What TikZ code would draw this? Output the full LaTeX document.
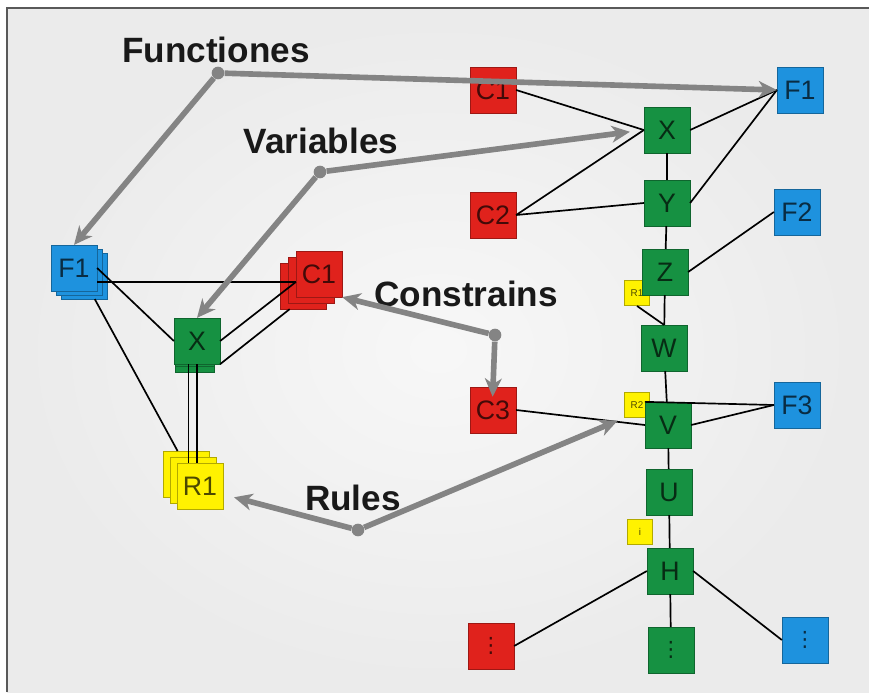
\documentclass[tikz,border=0pt]{standalone}
\usepackage{fontspec}
\setmainfont{Liberation Sans}
\newfontfamily\symfont{DejaVu Sans}
\usetikzlibrary{arrows.meta}

\definecolor{boxred}{RGB}{224,34,28}
\definecolor{boxgreen}{RGB}{22,145,66}
\definecolor{boxblue}{RGB}{30,146,222}
\definecolor{boxyellow}{RGB}{255,242,0}
\definecolor{pointer}{RGB}{132,132,132}

\tikzset{
  box/.style={draw=#1!70!black, fill=#1, text=#1!30!black, minimum size=32.5pt,
    inner sep=0pt, font=\fontsize{19}{19}\selectfont},
  rulebox/.style={box=boxyellow, minimum size=18pt, font=\fontsize{7}{7}\selectfont},
  dotsbox/.style={box=#1, font=\symfont\fontsize{15}{15}\selectfont},
  link/.style={line width=1.2pt},
  hub/.style={circle, fill=pointer, inner sep=0pt, minimum size=9pt},
  pointto/.style={pointer, line width=4pt, -{Stealth[length=13pt,width=12pt,inset=4pt]}},
  caption/.style={font=\fontsize{25}{25}\selectfont\bfseries, text=black!90}
}

\begin{document}
\begin{tikzpicture}[x=0.025cm, y=-0.025cm]
    \useasboundingbox (0,0) rectangle (869,692);
    % slide background and frame
    \fill[white] (0,0) rectangle (869,692);
    \shade[inner color=black!3, outer color=black!8] (7,8) rectangle (869,692);
    \draw[black!65, line width=1.5pt] (7,692) -- (7,8) -- (869,8);

    % left graph: stacked boxes (back copies first)
    \foreach \d/\n in {10/c, 5/b} \node[box=boxblue] (lf1\n) at (74+\d, 268+0.8*\d) {};
    \node[box=boxblue] (lf1a) at (74,268) {F1};
    \foreach \d/\n in {16/c, 8/b} \node[box=boxred] (lc1\n) at (319-\d, 274+0.75*\d) {};
    \node[box=boxred] (lc1a) at (319,274) {C1};
    \foreach \d/\n in {12/c, 6/b} \node[box=boxgreen, minimum size=28pt] (lx\n) at (195, 341+\d) {};
    \node[box=boxgreen] (lxa) at (197,341) {X};
    \foreach \d/\n in {14/c, 7/b} \node[box=boxyellow] (lr1\n) at (200-\d, 486-0.85*\d) {};
    \node[box=boxyellow] (lr1a) at (200,486) {R1};

    \draw[link] (lf1a.-31) -- (lc1a.199);
    \draw[link] (lf1a.east) -- (lxa.west);
    \draw[link] (lf1c.-65) -- (lr1c.110);
    \draw[link] (lc1a.199) -- (lxa.east);
    \draw[link] (lc1c.240) -- (lxa.south east);
    \draw[link] ([xshift=-6pt]lxa.south) -- ([xshift=-6pt]lxa.south |- lr1a.north);
    \draw[link] (lxa.south) -- (lxa.south |- lr1a.north);

    % right graph: rules sit behind the variable chain
    \node[rulebox] (r1) at (637,293) {R1};
    \node[rulebox] (r2) at (637,405) {R2};
    \node[rulebox] (ri) at (640,532) {i};

    \node[box=boxred] (c1) at (493,90) {C1};
    \node[box=boxred] (c2) at (493,215) {C2};
    \node[box=boxred] (c3) at (493,410) {C3};
    \node[dotsbox=boxred] (dred) at (491,646) {⋮};

    \node[box=boxgreen] (x) at (667,130) {X};
    \node[box=boxgreen] (y) at (667,203) {Y};
    \node[box=boxgreen] (z) at (665,272) {Z};
    \node[box=boxgreen] (w) at (664,348) {W};
    \node[box=boxgreen] (v) at (668,425) {V};
    \node[box=boxgreen] (u) at (669,492) {U};
    \node[box=boxgreen] (h) at (670,571) {H};
    \node[dotsbox=boxgreen] (dgreen) at (671,650) {⋮};

    \node[box=boxblue] (f1) at (800,90) {F1};
    \node[box=boxblue] (f2) at (797,212) {F2};
    \node[box=boxblue] (f3) at (797,405) {F3};
    \node[dotsbox=boxblue] (dblue) at (805,640) {⋮};

    \foreach \a/\b in {x/y, y/z, z/w, w/v, v/u, u/h, h/dgreen}
        \draw[link] (\a) -- (\b);
    \draw[link] (c1.east) -- (x.west);
    \draw[link] (c2.east) -- (x.west);
    \draw[link] (c2.east) -- (y.west);
    \draw[link] (x.east) -- (f1.west);
    \draw[link] (y.east) -- (f1.west);
    \draw[link] (z.east) -- (f2.west);
    \draw[link] (r1.south) -- (w.north);
    \draw[link] (v.north west) -- (f3.west);
    \draw[link] (v.east) -- (f3.west);
    \draw[link] (c3.east) -- (v.west);
    \draw[link] (h.west) -- (dred.east);
    \draw[link] (h.east) -- (dblue.west);

    % captions with their pointers
    \node[caption] (tf) at (216,50) {Functiones};
    \node[caption] (tv) at (321,141) {Variables};
    \node[caption] (tc) at (466,294) {Constrains};
    \node[caption] (tr) at (353,498) {Rules};

    \node[hub] (hf) at (218,73) {};
    \node[hub] (hv) at (320,172) {};
    \node[hub] (hc) at (495,335) {};
    \node[hub] (hr) at (358,530) {};

    \draw[pointto] (hf) -- (f1.west);
    \draw[pointto] (hf) -- (lf1a.north);
    \draw[pointto, shorten >=10pt] (hv) -- (x.west);
    \draw[pointto] (hv) -- (lxa.north);
    \draw[pointto] (hc) -- (lc1a.south east);
    \draw[pointto, shorten >=-7pt] (hc) -- (c3.north);
    \draw[pointto, shorten >=8pt] (hr) -- (lr1a.-20);
    \draw[pointto, shorten >=5pt] (hr) -- (r2.south west);
\end{tikzpicture}
\end{document}
